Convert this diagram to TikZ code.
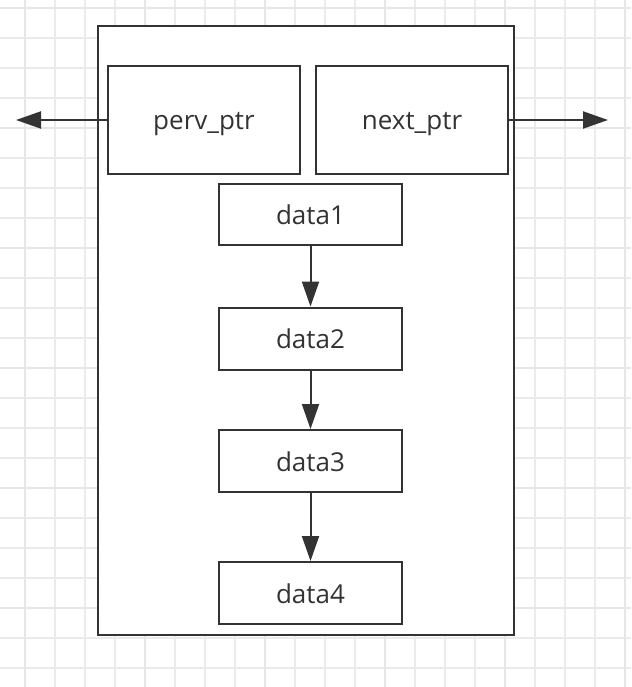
\documentclass[tikz,border=0pt]{standalone}
\usepackage{fontspec}
\setmainfont{Open Sans}
\usetikzlibrary{arrows.meta}
\definecolor{ink}{HTML}{333333}
\definecolor{gridminor}{HTML}{EBEBEB}
\definecolor{gridmajor}{HTML}{E6E6E6}
\tikzset{
  box/.style={draw=ink, line width=2pt, fill=white, inner sep=0pt, text=ink,
    font=\fontsize{26}{30}\selectfont, text height=20pt, text depth=0pt},
  ptrbox/.style={box, minimum width=192pt, minimum height=107pt},
  databox/.style={box, minimum width=183pt, minimum height=62pt},
  link/.style={draw=ink, line width=2pt, -{Triangle[length=25pt, width=17pt]}},
}
\begin{document}
\begin{tikzpicture}[x=1pt, y=-1pt]
\useasboundingbox[fill=white] (0,0) rectangle (631,687);
% grid
\foreach \i in {0,...,20} {
  \pgfmathsetmacro{\gx}{25+30*\i}
  \draw[gridminor, line width=1.2pt] (\gx,0) -- (\gx,687);
}
\foreach \j in {0,...,22} {
  \pgfmathsetmacro{\gy}{8+30*\j}
  \draw[gridminor, line width=1.2pt] (0,\gy) -- (631,\gy);
}
\foreach \gx in {25,145,265,385,505,625} \draw[gridmajor, line width=2pt] (\gx,0) -- (\gx,687);
\foreach \gy in {8,128,248,368,488,608} \draw[gridmajor, line width=2pt] (0,\gy) -- (631,\gy);
% outer box
\node[box, minimum width=416pt, minimum height=609pt] (outer) at (306,330.5) {};
\node[ptrbox] (perv) at (204,120) {perv\_ptr};
\node[ptrbox] (next) at (412,120) {next\_ptr};
\node[databox, minimum height=61pt] (d1) at (310.5,214.5) {data1};
\node[databox] (d2) at (310.5,338.5) {data2};
\node[databox] (d3) at (310.5,461) {data3};
\node[databox] (d4) at (310.5,593) {data4};
\coordinate (lend) at (16,120);
\coordinate (rend) at (608,120);
\draw[link] (perv.west) -- (lend);
\draw[link] (next.east) -- (rend);
\draw[link] (d1) -- (d2);
\draw[link] (d2) -- (d3);
\draw[link] (d3) -- (d4);
\end{tikzpicture}
\end{document}
